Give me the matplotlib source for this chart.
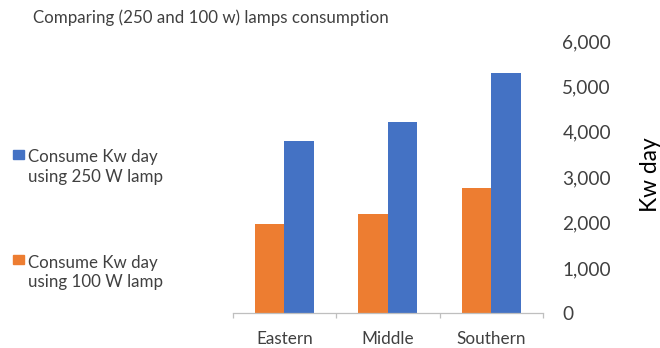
import matplotlib
matplotlib.use("Agg")
import matplotlib.pyplot as plt
from matplotlib.patches import Rectangle
from matplotlib.ticker import FuncFormatter, FixedLocator

regions = ["Eastern", "Middle", "Southern"]
kw_100w = [1960, 2180, 2750]
kw_250w = [3790, 4210, 5290]
label_250 = "Consume Kw day\nusing 250 W lamp"
label_100 = "Consume Kw day\nusing 100 W lamp"
title = "Comparing (250 and 100 w) lamps consumption"
y_label = "Kw day"

BLUE = "#4472C4"
ORANGE = "#ED7D31"
TEXT = "#404040"

plt.rcParams["font.family"] = ["Lato", "DejaVu Sans"]

fig = plt.figure(figsize=(6.6, 3.48), dpi=100)
ax = fig.add_axes([0.3526, 0.0997, 0.4701, 0.7825])

x = list(range(len(regions)))
w = 0.285
ax.bar([i - w / 2 for i in x], kw_100w, width=w, color=ORANGE, zorder=2)
ax.bar([i + w / 2 for i in x], kw_250w, width=w, color=BLUE, zorder=2)

ax.set_xlim(-0.5, len(regions) - 0.5)
ax.set_ylim(0, 6000)
ax.set_yticks(range(0, 6001, 1000))
ax.yaxis.set_major_formatter(FuncFormatter(lambda v, p: f"{int(v):,}"))
ax.yaxis.tick_right()
ax.yaxis.set_label_position("right")
ax.tick_params(axis="y", length=0, pad=14, labelsize=13.7, labelcolor=TEXT)

ax.set_xticks(x)
ax.set_xticklabels(regions)
ax.xaxis.set_minor_locator(FixedLocator([i - 0.5 for i in range(len(regions) + 1)]))
ax.tick_params(axis="x", which="major", length=0, pad=13, labelsize=12.3, labelcolor=TEXT)
ax.tick_params(axis="x", which="minor", length=3.6, width=0.9, color="#BFBFBF")

for s in ["top", "left", "right"]:
    ax.spines[s].set_visible(False)
ax.spines["bottom"].set_color("#BFBFBF")
ax.spines["bottom"].set_linewidth(0.9)

ax.set_ylabel(y_label, fontsize=16.4, color="black")
ax.yaxis.set_label_coords(1.312, 0.511)

fig.text(0.05, 0.948, title, fontsize=12.2, color=TEXT, va="center", ha="left")

# legend entries, drawn at fixed figure positions
entries = [(BLUE, label_250, 0.521), (ORANGE, label_100, 0.217)]
for color, text, yc in entries:
    fig.patches.append(Rectangle((13 / 660, yc + 0.023), 11 / 660, 9 / 348,
                                 transform=fig.transFigure, color=color))
    fig.text(28 / 660, yc, text, fontsize=12.2, color=TEXT, va="center",
             ha="left", linespacing=1.3)

fig.savefig("out.png", dpi=100)
